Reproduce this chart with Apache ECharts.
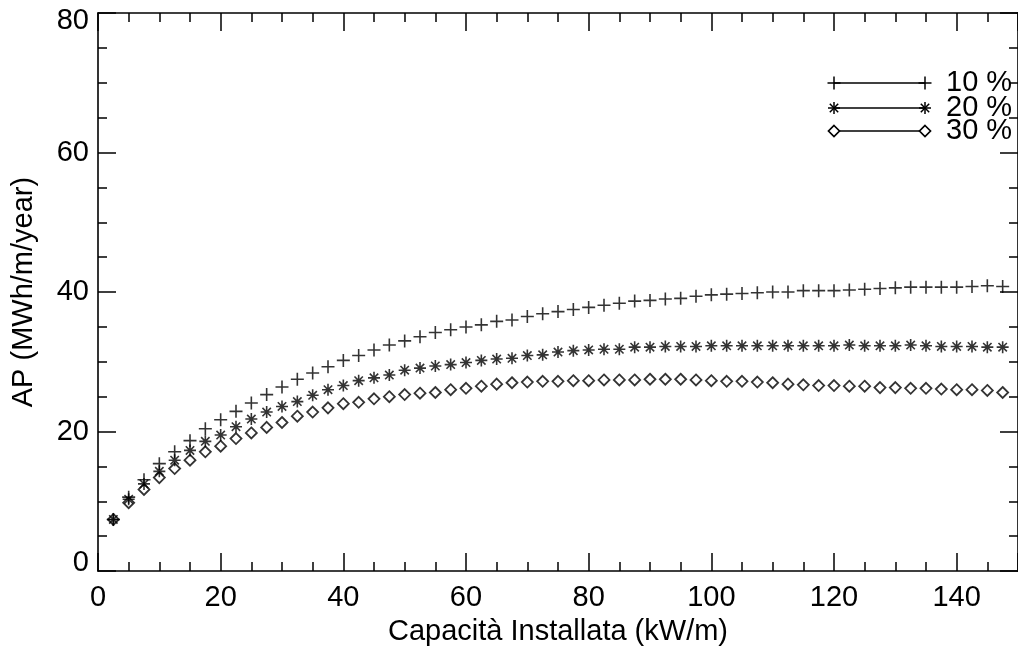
<!DOCTYPE html>
<html>
<head>
<meta charset="utf-8">
<script src="https://cdn.jsdelivr.net/npm/echarts@6/dist/echarts.min.js"></script>
<style>html,body{margin:0;padding:0;background:#fff}#c{width:1018px;height:651px}</style>
</head>
<body>
<div id="c"></div>
<script>
const capacity = [2.5,5,7.5,10,12.5,15,17.5,20,22.5,25,27.5,30,32.5,35,37.5,40,42.5,45,47.5,50,52.5,55,57.5,60,62.5,65,67.5,70,72.5,75,77.5,80,82.5,85,87.5,90,92.5,95,97.5,100,102.5,105,107.5,110,112.5,115,117.5,120,122.5,125,127.5,130,132.5,135,137.5,140,142.5,145,147.5];
const ap10 = [7.4,10.6,13.1,15.4,17.1,18.7,20.4,21.7,22.9,24.1,25.3,26.4,27.5,28.4,29.3,30.2,30.9,31.7,32.4,33.0,33.6,34.2,34.6,35.0,35.3,35.8,36.0,36.5,36.9,37.2,37.5,37.8,38.1,38.4,38.7,38.8,39.0,39.1,39.4,39.6,39.7,39.8,39.9,40.0,40.0,40.2,40.2,40.2,40.3,40.4,40.5,40.6,40.7,40.7,40.7,40.7,40.8,40.9,40.8];
const ap20 = [7.4,10.3,12.5,14.3,15.9,17.3,18.6,19.5,20.7,21.8,22.8,23.6,24.3,25.2,26.0,26.6,27.3,27.7,28.1,28.8,29.1,29.4,29.6,29.9,30.2,30.4,30.5,30.9,31.0,31.4,31.6,31.7,31.8,31.8,32.1,32.1,32.2,32.2,32.2,32.3,32.3,32.3,32.3,32.3,32.3,32.3,32.3,32.3,32.4,32.3,32.3,32.3,32.4,32.3,32.2,32.2,32.2,32.1,32.1];
const ap30 = [7.4,9.8,11.7,13.4,14.7,15.9,17.1,17.9,19.0,19.8,20.6,21.3,22.2,22.8,23.4,24.0,24.2,24.7,25.0,25.3,25.5,25.6,26.0,26.2,26.5,26.8,27.0,27.1,27.2,27.2,27.3,27.3,27.4,27.4,27.4,27.5,27.5,27.5,27.4,27.3,27.2,27.2,27.1,27.0,26.8,26.7,26.6,26.6,26.5,26.5,26.3,26.3,26.2,26.2,26.1,26.0,26.0,25.9,25.6];
const seriesNames = ['10 %','20 %','30 %'];
const xTicks = [0,20,40,60,80,100,120,140];
const yTicks = [0,20,40,60,80];

const FONT = 'Liberation Sans, Arial, Helvetica, sans-serif';
const FS = 29;
const pair = (arr) => capacity.map((x, i) => [x, arr[i]]);

const SYM_PLUS = 'path://M0,6.5L13,6.5M6.5,0L6.5,13';
const SYM_AST = 'path://M0,6L12,6M6,0L6,12M1.8,1.8L10.2,10.2M1.8,10.2L10.2,1.8';
const SYM_DIA = 'path://M5.5,0L11,5.5L5.5,11L0,5.5Z';

const chart = echarts.init(document.getElementById('c'));

function axisStyle() {
  return {
    axisLine: {show: true, onZero: false, lineStyle: {color: '#000', width: 1.6}},
    axisTick: {show: true, inside: true, length: 18, lineStyle: {color: '#000', width: 1.5}},
    minorTick: {show: true, splitNumber: 4, length: 9, lineStyle: {color: '#000', width: 1.5}},
    splitLine: {show: false},
    minorSplitLine: {show: false}
  };
}

function legendGraphics() {
  const els = [];
  const x0 = 834, x1 = 925;
  const ys = [83, 108, 131];
  const st = {stroke: '#000', lineWidth: 1.5};
  ys.forEach((y, i) => {
    els.push({type: 'line', shape: {x1: x0, y1: y, x2: x1, y2: y}, style: st});
    [x0, x1].forEach(x => {
      if (i === 0) {
        els.push({type: 'line', shape: {x1: x, y1: y - 6.5, x2: x, y2: y + 6.5}, style: st});
        els.push({type: 'line', shape: {x1: x - 6.5, y1: y, x2: x + 6.5, y2: y}, style: st});
      } else if (i === 1) {
        els.push({type: 'line', shape: {x1: x - 6, y1: y, x2: x + 6, y2: y}, style: st});
        els.push({type: 'line', shape: {x1: x, y1: y - 6, x2: x, y2: y + 6}, style: st});
        els.push({type: 'line', shape: {x1: x - 4.2, y1: y - 4.2, x2: x + 4.2, y2: y + 4.2}, style: st});
        els.push({type: 'line', shape: {x1: x - 4.2, y1: y + 4.2, x2: x + 4.2, y2: y - 4.2}, style: st});
      } else {
        els.push({type: 'polygon', shape: {points: [[x, y - 5.5], [x + 5.5, y], [x, y + 5.5], [x - 5.5, y]]}, style: {stroke: '#000', lineWidth: 1.7, fill: '#fff'}});
      }
    });
    els.push({type: 'text', x: 946, y: y, style: {text: seriesNames[i], font: FS + 'px ' + FONT, fill: '#000', verticalAlign: 'middle', align: 'left'}});
  });
  return els;
}

chart.setOption({
  animation: false,
  backgroundColor: '#fff',
  grid: {left: 98, top: 13, width: 925, height: 559.5, containLabel: false},
  xAxis: [
    Object.assign({
      type: 'value', position: 'bottom', min: 0, max: 150, interval: 20,
      name: 'Capacità Installata (kW/m)', nameLocation: 'middle', nameGap: 40,
      nameTextStyle: {fontFamily: FONT, fontSize: FS, color: '#000'},
      axisLabel: {show: true, margin: 12, fontFamily: FONT, fontSize: FS, color: '#000',
        showMaxLabel: false,
        formatter: v => xTicks.indexOf(v) >= 0 ? String(v) : ''}
    }, axisStyle()),
    Object.assign({
      type: 'value', position: 'top', min: 0, max: 150, interval: 20,
      axisLabel: {show: false}
    }, axisStyle())
  ],
  yAxis: [
    Object.assign({
      type: 'value', position: 'left', min: 0, max: 80, interval: 20,
      name: 'AP (MWh/m/year)', nameLocation: 'middle', nameGap: 60, nameRotate: 90,
      nameTextStyle: {fontFamily: FONT, fontSize: FS, color: '#000'},
      axisLabel: {show: true, margin: 9, fontFamily: FONT, fontSize: FS, color: '#000',
        lineHeight: 16,
        verticalAlignMinLabel: 'bottom', verticalAlignMaxLabel: 'top',
        formatter: v => yTicks.indexOf(v) >= 0 ? String(v) : ''}
    }, axisStyle()),
    Object.assign({
      type: 'value', position: 'right', min: 0, max: 80, interval: 20,
      axisLabel: {show: false}
    }, axisStyle())
  ],
  series: [
    {name: seriesNames[0], type: 'scatter', data: pair(ap10), symbol: SYM_PLUS, symbolSize: 13,
      itemStyle: {color: 'none', borderColor: '#000', borderWidth: 1.6}, z: 3},
    {name: seriesNames[1], type: 'scatter', data: pair(ap20), symbol: SYM_AST, symbolSize: 12,
      itemStyle: {color: 'none', borderColor: '#000', borderWidth: 1.6}, z: 3},
    {name: seriesNames[2], type: 'scatter', data: pair(ap30), symbol: SYM_DIA, symbolSize: 11,
      itemStyle: {color: 'none', borderColor: '#000', borderWidth: 1.8}, z: 3}
  ],
  graphic: legendGraphics()
});
</script>
</body>
</html>
